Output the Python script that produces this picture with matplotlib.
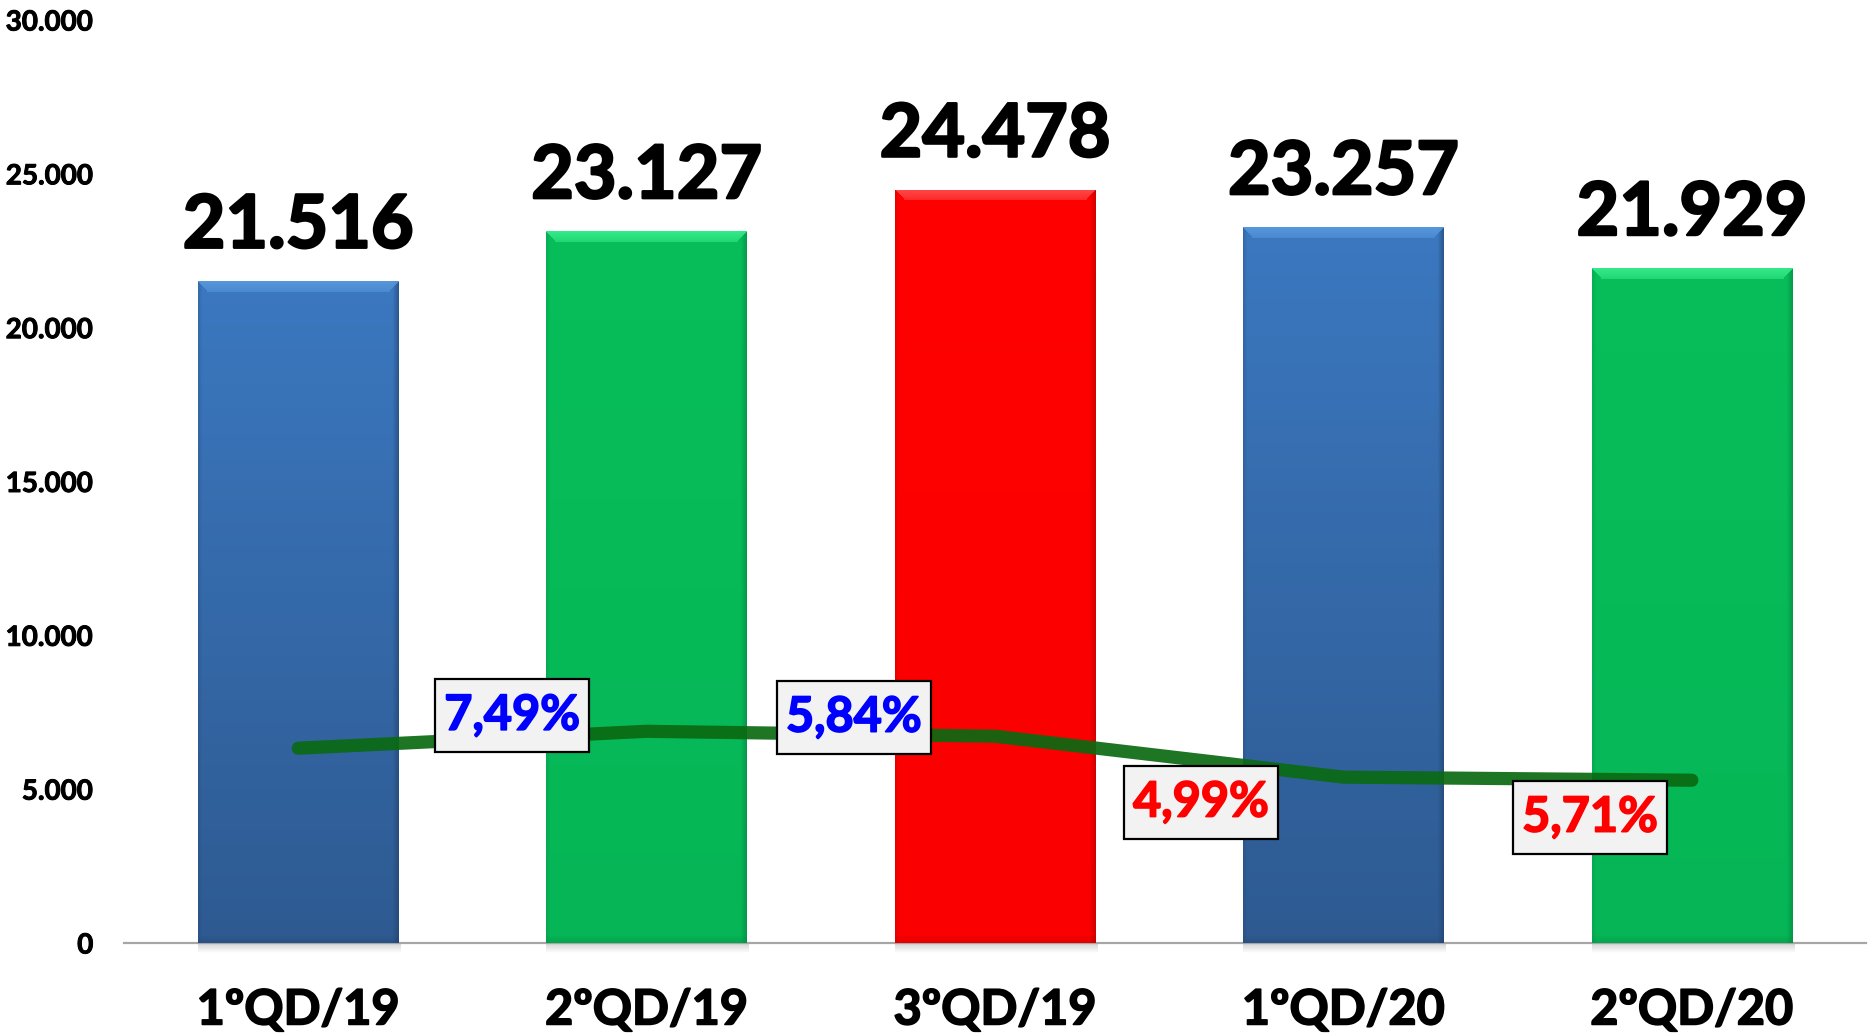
import numpy as np
import matplotlib
matplotlib.use('Agg')
import matplotlib.pyplot as plt
import matplotlib.patheffects as pe
from matplotlib.colors import to_rgb
from matplotlib.path import Path

plt.rcParams['font.family'] = ['Lato', 'DejaVu Sans']

# ---- data ----
categories = ['1ºQD/19', '2ºQD/19', '3ºQD/19', '1ºQD/20', '2ºQD/20']
bar_values = [21516, 23127, 24478, 23257, 21929]
line_values = [6330, 6880, 6720, 5390, 5290]
pct_labels = ['7,49%', '5,84%', '4,99%', '5,71%']
y_ticks = [0, 5000, 10000, 15000, 20000, 25000, 30000]

# ---- styles / positions ----
pct_colors = ['#0000FF', '#0000FF', '#FF0000', '#FF0000']
pct_pos_x = [0.614, 1.595, 2.591, 3.708]
pct_pos_y = [7400, 7340, 4580, 4090]
bar_top_colors = ['#3B78C0', '#07BE5A', '#FF0000', '#3B78C0', '#07BE5A']
bar_bottom_colors = ['#2E5A91', '#06B656', '#FA0000', '#2E5A91', '#06B656']
bar_bevel_colors = ['#5E9EE2', '#40F495', '#FF5A5A', '#5E9EE2', '#40F495']
bar_edge_colors = ['#1F3F68', '#03803C', '#B00000', '#1F3F68', '#03803C']


def thick(color, lw):
    return [pe.withStroke(linewidth=lw, foreground=color)]


FIG_W, FIG_H = 18.76, 10.36
AX_RECT = [0.0661, 0.0898, 0.9286, 0.8909]
fig = plt.figure(figsize=(FIG_W, FIG_H), dpi=100)
ax = fig.add_axes(AX_RECT)
ax_h_px = AX_RECT[3] * FIG_H * 100
YMAX = 30000

x = np.arange(len(categories))
width = 0.576
bars = ax.bar(x, bar_values, width=width, color='none', edgecolor='none', zorder=2)

# gradient / bevel fill for bars
for i, b in enumerate(bars):
    x0, h = b.get_x(), b.get_height()
    h_px = h / YMAX * ax_h_px
    top = np.array(to_rgb(bar_top_colors[i]))
    bot = np.array(to_rgb(bar_bottom_colors[i]))
    bev = np.array(to_rgb(bar_bevel_colors[i]))
    edge = np.array(to_rgb(bar_edge_colors[i]))
    ny, nx = int(h_px), 200
    yy = np.arange(ny)[:, None]
    xx = np.linspace(0, 1, nx)[None, :]
    t = (yy / max(ny - 1, 1))[:, :, None]
    img = top * (1 - t) + bot * t
    img = np.broadcast_to(img, (ny, nx, 3)).copy()
    right = np.clip(1 - (1 - xx) / 0.03, 0, 1)[:, :, None]
    left = np.clip(1 - xx / 0.02, 0, 1)[:, :, None]
    img = img * (1 - 0.55 * right) + edge * 0.55 * right
    img = img * (1 - 0.25 * left) + edge * 0.25 * left
    bev_w = 11.0
    bmask = np.clip(1 - yy / bev_w, 0, 1)
    bmask = (bmask > 0).astype(float) * (0.55 + 0.45 * bmask)
    dx_px = np.minimum(xx, 1 - xx) * 201
    bmask = bmask * (dx_px >= yy * 0.9)
    img = img * (1 - 0.8 * bmask[:, :, None]) + bev * 0.8 * bmask[:, :, None]
    bb = np.clip(1 - (ny - 1 - yy) / 8.0, 0, 1)[:, :, None]
    img = img * (1 - 0.3 * bb) + edge * 0.3 * bb
    im = ax.imshow(img, extent=(x0, x0 + width, 0, h), aspect='auto',
                   origin='upper', zorder=2, interpolation='bilinear')
    im.set_clip_path(b)
    sh = np.linspace(0.35, 0.0, 30)[:, None, None] * np.ones((1, 10, 1))
    sh_img = np.concatenate([np.full((30, 10, 3), 0.45), sh], axis=2)
    ax.imshow(sh_img, extent=(x0, x0 + width * 1.01, -330, 0), aspect='auto',
              origin='upper', zorder=1, clip_on=False, interpolation='bilinear')

# value labels above bars
for xi, v in zip(x, bar_values):
    ax.annotate(f'{v:,}'.replace(',', '.'), (xi, v), xytext=(0, 24),
                textcoords='offset points', ha='center', va='baseline',
                fontsize=53, fontweight='bold', color='black', zorder=5,
                path_effects=thick('black', 1.8))

# line
ax.plot(x, line_values, color='#0A6A12', lw=9.5, solid_capstyle='round',
        solid_joinstyle='round', alpha=0.92, zorder=3)


def label_box(x0, y0, w, h, mutation_size, padx=9, pady=14):
    x0 -= padx
    y0 -= pady
    w += 2 * padx
    h += 2 * pady
    return Path([(x0, y0), (x0 + w, y0), (x0 + w, y0 + h), (x0, y0 + h), (x0, y0)],
                closed=True)


for px, py, s, c in zip(pct_pos_x, pct_pos_y, pct_labels, pct_colors):
    ax.text(px, py, s, ha='center', va='center', fontsize=35,
            fontweight='bold', color=c, zorder=6,
            path_effects=thick(c, 1.2),
            bbox=dict(boxstyle=label_box, facecolor='#F2F2F2',
                      edgecolor='black', linewidth=1.6))

ax.set_xlim(-0.5, len(categories) - 0.5)
ax.set_ylim(0, YMAX)
ax.set_yticks(y_ticks)
ax.set_yticklabels([f'{v:,}'.replace(',', '.') for v in y_ticks],
                   fontsize=20, fontweight='bold')
ax.set_xticks(x)
ax.set_xticklabels(categories, fontsize=35, fontweight='bold')
for lab in ax.get_yticklabels():
    lab.set_path_effects(thick('black', 0.7))
for lab in ax.get_xticklabels():
    lab.set_path_effects(thick('black', 1.2))
ax.tick_params(axis='y', length=0, pad=22)
ax.tick_params(axis='x', length=0, pad=32)
for s in ['top', 'right', 'left']:
    ax.spines[s].set_visible(False)
ax.spines['bottom'].set_color('#A6A6A6')
ax.spines['bottom'].set_linewidth(1.6)
ax.spines['bottom'].set_zorder(1.5)

fig.savefig('out.png', dpi=100)
